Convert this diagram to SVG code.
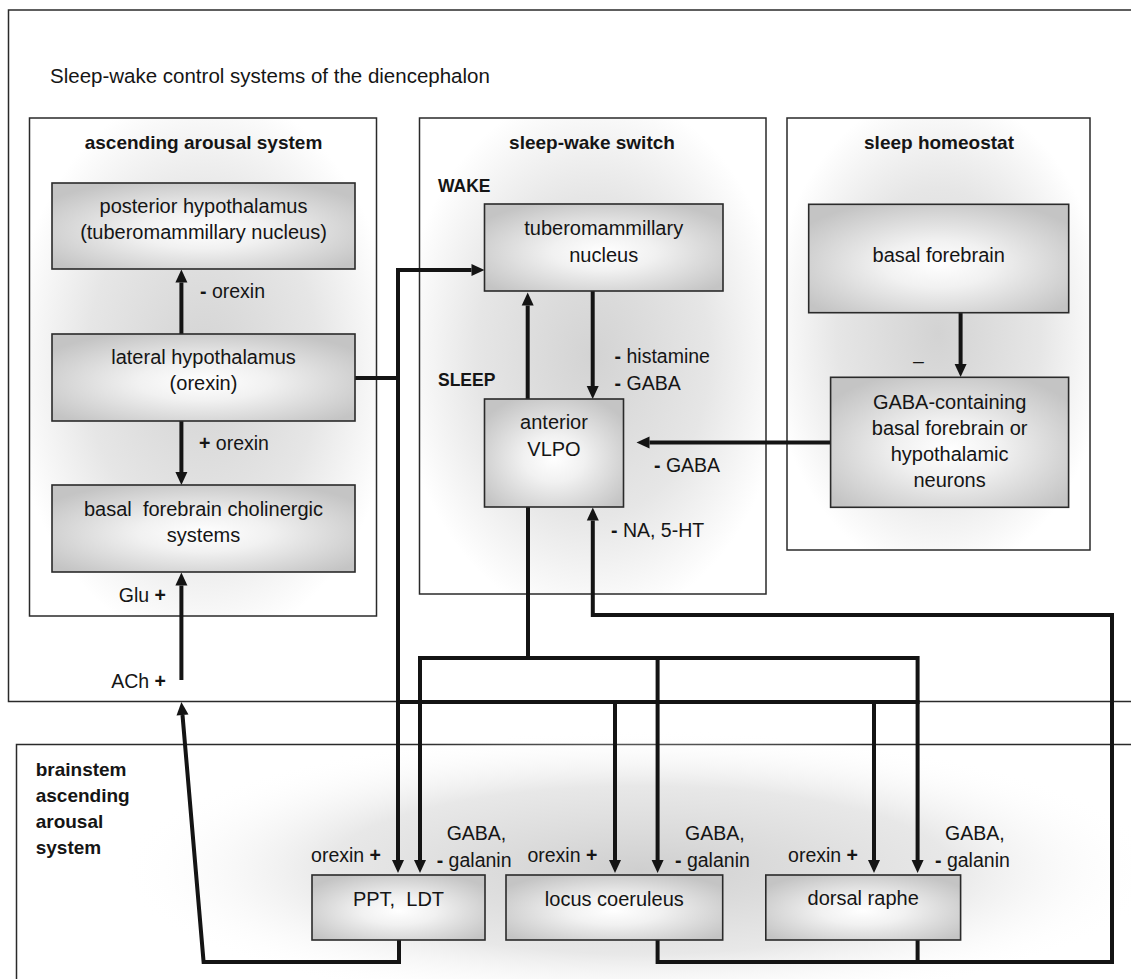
<svg xmlns="http://www.w3.org/2000/svg" width="1131" height="979" viewBox="0 0 1131 979">
<defs>
<style>
.frame{fill:#fff;stroke:#2a2a2a;stroke-width:1.5}
.panel{fill:url(#pang);stroke:#2a2a2a;stroke-width:1.5}
.box{fill:url(#boxg);stroke:#2a2a2a;stroke-width:1.6}
.c{fill:none;stroke:#141414;stroke-width:4;stroke-linejoin:miter;stroke-linecap:butt}
.a{marker-end:url(#ah)}
.as{marker-start:url(#ah)}
text{font-family:"Liberation Sans",Arial,sans-serif;fill:#151515}
.n{font-size:20px;text-anchor:middle}
.h{font-size:19px;font-weight:bold}
.hm{text-anchor:middle}
.l{font-size:19.5px}
.e{text-anchor:end}
.b{font-weight:bold}
.s{font-size:17.5px;font-weight:bold}
</style>
<radialGradient id="boxg" cx="0.5" cy="0.55" r="0.62">
<stop offset="0" stop-color="#ffffff"/>
<stop offset="0.35" stop-color="#f1f1f1"/>
<stop offset="1" stop-color="#c4c4c4"/>
</radialGradient>
<radialGradient id="pang" cx="0.5" cy="0.5" r="0.56">
<stop offset="0" stop-color="#d3d3d3"/>
<stop offset="0.6" stop-color="#e6e6e6"/>
<stop offset="1" stop-color="#ffffff"/>
</radialGradient>
<radialGradient id="glow" cx="0.5" cy="0.5" r="0.5">
<stop offset="0" stop-color="#cfcfcf" stop-opacity="1"/>
<stop offset="0.6" stop-color="#e2e2e2" stop-opacity="0.8"/>
<stop offset="1" stop-color="#ffffff" stop-opacity="0"/>
</radialGradient>
<marker id="ah" markerUnits="userSpaceOnUse" markerWidth="13" markerHeight="12" refX="0" refY="6" orient="auto-start-reverse" overflow="visible">
<path d="M0,0 L13,6 L0,12 z" fill="#141414"/>
</marker>
</defs>

<g id="frames">
<rect class="frame" x="8.5" y="10" width="1140" height="691.5"/>
<rect class="frame" x="16.5" y="744.5" width="1130" height="300"/>
<ellipse cx="640" cy="870" rx="520" ry="140" fill="url(#glow)"/>
<text x="50" y="83" style="font-size:20.5px">Sleep-wake control systems of the diencephalon</text>
<text class="h" x="35.7" y="776">brainstem</text>
<text class="h" x="35.7" y="802">ascending</text>
<text class="h" x="35.7" y="828">arousal</text>
<text class="h" x="35.7" y="854">system</text>
</g>

<g id="panel-ascending-arousal">
<rect class="panel" x="29.5" y="118" width="347" height="498"/>
<text class="h hm" x="203.5" y="149">ascending arousal system</text>
</g>
<g id="panel-sleep-wake-switch">
<rect class="panel" x="419.5" y="118" width="346.5" height="476"/>
<text class="h hm" x="592" y="149">sleep-wake switch</text>
<text class="s" x="438" y="192">WAKE</text>
<text class="s" x="438" y="386">SLEEP</text>
</g>
<g id="panel-sleep-homeostat">
<rect class="panel" x="787" y="118" width="303" height="432"/>
<text class="h hm" x="939" y="149">sleep homeostat</text>
</g>

<g id="connectors">
<path class="c a" d="M181.4,334 V282.5"/>
<path class="c a" d="M181.4,421 V472"/>
<path class="c a" d="M181.4,680 V585.5"/>
<path class="c a" d="M399,940 V962 H203.6 L182.5,715"/>
<path class="c a" d="M398,378 V270 H471.5"/>
<path class="c a" d="M355,378 H398 V860"/>
<path class="c" d="M398,702 H919.6"/>
<path class="c a" d="M615,702 V860"/>
<path class="c a" d="M874,702 V860"/>
<path class="c" d="M528,507 V658"/>
<path class="c a as" d="M420,860 V658 H917.6 V860"/>
<path class="c a" d="M657.6,658 V860"/>
<path class="c a" d="M527.7,399 V305.5"/>
<path class="c a" d="M592.7,291 V386"/>
<path class="c a" d="M960.6,312.7 V364"/>
<path class="c a" d="M830.6,442.5 H649.5"/>
<path class="c a" d="M657.6,940 V962 H1112 V615 H592.8 V520.5"/>
<path class="c" d="M917.6,940 V962"/>
</g>

<g id="connector-labels">
<text class="l" x="200" y="298"><tspan class="b">-</tspan> orexin</text>
<text class="l" x="199" y="450"><tspan class="b">+</tspan> orexin</text>
<text class="l e" x="166" y="602">Glu <tspan class="b">+</tspan></text>
<text class="l e" x="166" y="688">ACh <tspan class="b">+</tspan></text>
<text class="l" x="614.6" y="363"><tspan class="b">-</tspan> histamine</text>
<text class="l" x="614.6" y="390"><tspan class="b">-</tspan> GABA</text>
<text class="l" x="654" y="472"><tspan class="b">-</tspan> GABA</text>
<text class="l" x="611" y="537"><tspan class="b">-</tspan> NA, 5-HT</text>
<text class="l" x="913" y="368">–</text>
<text class="l e" x="381" y="862">orexin <tspan class="b">+</tspan></text>
<text class="l" x="446.7" y="840">GABA,</text>
<text class="l" x="436.7" y="867"><tspan class="b">-</tspan> galanin</text>
<text class="l e" x="597.3" y="862">orexin <tspan class="b">+</tspan></text>
<text class="l" x="685" y="840">GABA,</text>
<text class="l" x="675" y="867"><tspan class="b">-</tspan> galanin</text>
<text class="l e" x="858" y="862">orexin <tspan class="b">+</tspan></text>
<text class="l" x="945" y="840">GABA,</text>
<text class="l" x="935" y="867"><tspan class="b">-</tspan> galanin</text>
</g>

<g id="posterior-hypothalamus">
<rect class="box" x="52" y="183" width="303" height="86"/>
<text class="n" x="203.5" y="213">posterior hypothalamus</text>
<text class="n" x="203.5" y="239">(tuberomammillary nucleus)</text>
</g>
<g id="lateral-hypothalamus">
<rect class="box" x="52" y="334" width="303" height="87"/>
<text class="n" x="203.5" y="364">lateral hypothalamus</text>
<text class="n" x="203.5" y="390">(orexin)</text>
</g>
<g id="basal-forebrain-cholinergic">
<rect class="box" x="52" y="485" width="303" height="87"/>
<text class="n" x="203.5" y="516" xml:space="preserve">basal  forebrain cholinergic</text>
<text class="n" x="203.5" y="542">systems</text>
</g>
<g id="tuberomammillary-nucleus">
<rect class="box" x="484.5" y="204" width="238.5" height="87"/>
<text class="n" x="603.7" y="235">tuberomammillary</text>
<text class="n" x="603.7" y="261.5">nucleus</text>
</g>
<g id="anterior-vlpo">
<rect class="box" x="484.5" y="399" width="139" height="108"/>
<text class="n" x="554" y="429">anterior</text>
<text class="n" x="554" y="456">VLPO</text>
</g>
<g id="basal-forebrain">
<rect class="box" x="808.7" y="204.3" width="260" height="108.4"/>
<text class="n" x="938.7" y="262">basal forebrain</text>
</g>
<g id="gaba-containing">
<rect class="box" x="830.6" y="377.3" width="238" height="130"/>
<text class="n" x="949.6" y="409">GABA-containing</text>
<text class="n" x="949.6" y="435">basal forebrain or</text>
<text class="n" x="949.6" y="461">hypothalamic</text>
<text class="n" x="949.6" y="487">neurons</text>
</g>
<g id="ppt-ldt">
<rect class="box" x="312" y="875" width="173" height="65"/>
<text class="n" x="398.5" y="906" xml:space="preserve">PPT,  LDT</text>
</g>
<g id="locus-coeruleus">
<rect class="box" x="506" y="875" width="216.7" height="65"/>
<text class="n" x="614.3" y="906">locus coeruleus</text>
</g>
<g id="dorsal-raphe">
<rect class="box" x="765.8" y="875" width="194.8" height="65"/>
<text class="n" x="863.2" y="905">dorsal raphe</text>
</g>
</svg>
